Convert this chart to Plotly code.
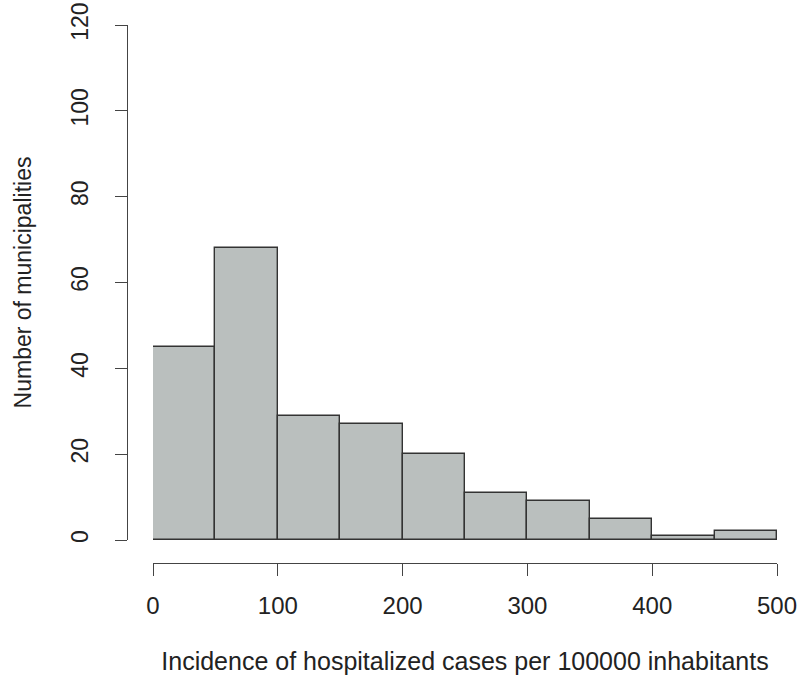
import plotly.graph_objects as go

# Histogram of hospitalization incidence across municipalities
bin_edges = [0, 50, 100, 150, 200, 250, 300, 350, 400, 450, 500]
counts = [45, 68, 29, 27, 20, 11, 9, 5, 1, 2]
x_ticks = [0, 100, 200, 300, 400, 500]
y_ticks = [0, 20, 40, 60, 80, 100, 120]

x_title = "Incidence of hospitalized cases per 100000 inhabitants"
y_title = "Number of municipalities"

centers = [(a + b) / 2 for a, b in zip(bin_edges[:-1], bin_edges[1:])]
widths = [b - a for a, b in zip(bin_edges[:-1], bin_edges[1:])]

W, H = 800, 675
left, right, top, bottom = 127, 777, 25, 563
x0_px, y0_px = 153, 540

fig = go.Figure(
    go.Bar(
        x=centers,
        y=counts,
        width=widths,
        marker=dict(color="#babfbe", line=dict(color="#333333", width=1.4)),
        hoverinfo="x+y",
    )
)

family = "Liberation Sans, Arial, sans-serif"
ink = "#222222"
font_y = dict(family=family, size=23, color=ink)
font_xt = dict(family=family, size=24, color=ink)
font_xtitle = dict(family=family, size=25, color=ink)
axis_color = "#444444"

plot_w = right - left
plot_h = bottom - top

fig.update_layout(
    width=W,
    height=H,
    margin=dict(l=left, r=W - right, t=top, b=H - bottom, pad=0),
    plot_bgcolor="white",
    paper_bgcolor="white",
    showlegend=False,
    font=font_y,
    bargap=0,
    xaxis=dict(
        domain=[(x0_px - left) / plot_w, 1],
        range=[0, 500],
        anchor="free",
        position=0,
        showline=True,
        linecolor=axis_color,
        linewidth=1.2,
        ticks="outside",
        ticklen=12,
        tickwidth=1.2,
        tickcolor=axis_color,
        tickvals=x_ticks,
        ticktext=[str(v) for v in x_ticks],
        tickfont=font_xt,
        showgrid=False,
        zeroline=False,
        automargin=False,
        ticklabelstandoff=9,
        title=dict(text=x_title, standoff=38, font=font_xtitle),
    ),
    yaxis=dict(
        domain=[(bottom - y0_px) / plot_h, 1],
        range=[0, 120],
        anchor="free",
        position=0,
        showline=True,
        linecolor=axis_color,
        linewidth=1.2,
        ticks="outside",
        ticklen=12,
        tickwidth=1.2,
        tickcolor=axis_color,
        tickvals=y_ticks,
        ticktext=[str(v) for v in y_ticks],
        tickfont=font_y,
        tickangle=-90,
        showgrid=False,
        zeroline=False,
        automargin=False,
        ticklabelstandoff=18,
        title=dict(text=y_title, standoff=27, font=font_y),
    ),
)

fig.write_html("out.html")
